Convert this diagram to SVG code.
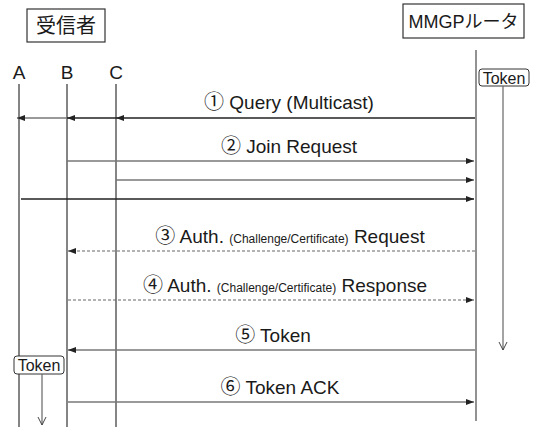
<svg xmlns="http://www.w3.org/2000/svg" width="537" height="427" viewBox="0 0 537 427">
<style>
text{font-family:"Liberation Sans","Noto Sans CJK JP",sans-serif;fill:#1a1a1a}
.lbl{font-size:19px}
.sm{font-size:12px}
.hdr{font-size:19px}
.num{font-family:"Noto Sans CJK JP",sans-serif;font-size:20px}
.box{fill:#fff;stroke:#333;stroke-width:1.2}
.life{stroke:#333;stroke-width:1.2;fill:none}
.rlife{stroke:#777;stroke-width:1.6;fill:none}
.msg{stroke:#777;stroke-width:1.4;fill:none}
.dark{stroke:#222;stroke-width:1.4;fill:none}
.dash{stroke:#666;stroke-width:1.2;stroke-dasharray:3,2;fill:none}
.tok{fill:#fff;stroke:#333;stroke-width:1}
.tline{stroke:#666;stroke-width:1.2;fill:none}
.tk{font-size:16px}
</style>
<defs>
<marker id="ah" markerWidth="8" markerHeight="6" refX="8" refY="3" orient="auto" markerUnits="userSpaceOnUse">
<path d="M0,0 L8,3 L0,6 Z" fill="#222"/>
</marker>
<marker id="va" markerWidth="10" markerHeight="10" refX="5" refY="9" orient="0" markerUnits="userSpaceOnUse">
<path d="M1,1 L5,9 L9,1" fill="none" stroke="#444" stroke-width="1"/>
</marker>
</defs>
<g id="receiver-header">
<rect class="box" x="27" y="9" width="78" height="33"/>
<text class="hdr" x="66" y="33" text-anchor="middle" style="font-size:20px">受信者</text>
</g>
<g id="router-header">
<rect class="box" x="403" y="4" width="121" height="34"/>
<text x="463.5" y="28" text-anchor="middle" style="font-size:18px">MMGPルータ</text>
</g>
<g id="A">
<text class="hdr" x="19" y="79" text-anchor="middle">A</text>
<line class="life" x1="19" y1="84" x2="19" y2="427"/>
</g>
<g id="B">
<text class="hdr" x="67" y="79" text-anchor="middle">B</text>
<line class="life" x1="67" y1="84" x2="67" y2="427"/>
</g>
<g id="C">
<text class="hdr" x="116" y="79" text-anchor="middle">C</text>
<line class="life" x1="116" y1="84" x2="116" y2="427"/>
</g>
<g id="router">
<line class="rlife" x1="476" y1="50" x2="476" y2="421"/>
</g>
<g id="token-router">
<rect class="tok" x="479" y="69" width="50" height="17" rx="3"/>
<text class="tk" x="504" y="84" text-anchor="middle">Token</text>
<line class="tline" x1="503" y1="86" x2="503" y2="350" marker-end="url(#va)"/>
</g>
<g id="token-A">
<rect class="tok" x="14" y="356" width="50" height="18" rx="3"/>
<text class="tk" x="39" y="371" text-anchor="middle">Token</text>
<line class="tline" x1="42" y1="374" x2="42" y2="425" marker-end="url(#va)"/>
</g>
<g id="connectors">
<line class="dark" x1="475" y1="118" x2="116" y2="118" marker-end="url(#ah)"/>
<line class="dark" x1="116" y1="118" x2="67" y2="118" marker-end="url(#ah)"/>
<line class="msg" x1="67" y1="118" x2="17" y2="118" marker-end="url(#ah)"/>
<line class="msg" x1="67" y1="161" x2="474" y2="161" marker-end="url(#ah)"/>
<line class="msg" x1="116" y1="180" x2="474" y2="180" marker-end="url(#ah)"/>
<line class="dark" x1="21" y1="199" x2="474" y2="199" marker-end="url(#ah)"/>
<line class="dash" x1="475" y1="251" x2="68" y2="251" marker-end="url(#ah)"/>
<line class="dash" x1="68" y1="300" x2="474" y2="300" marker-end="url(#ah)"/>
<line class="msg" x1="475" y1="350" x2="68" y2="350" marker-end="url(#ah)"/>
<line class="msg" x1="68" y1="402" x2="474" y2="402" marker-end="url(#ah)"/>
</g>
<g id="labels">
<text class="lbl" x="289" y="109" text-anchor="middle"><tspan class="num">①</tspan> Query (Multicast)</text>
<text class="lbl" x="289" y="153" text-anchor="middle"><tspan class="num">②</tspan> Join Request</text>
<text class="lbl" x="290" y="243" text-anchor="middle"><tspan class="num">③</tspan> Auth. <tspan class="sm">(Challenge/Certificate)</tspan> Request</text>
<text class="lbl" x="285" y="292" text-anchor="middle"><tspan class="num">④</tspan> Auth. <tspan class="sm">(Challenge/Certificate)</tspan> Response</text>
<text class="lbl" x="273" y="342" text-anchor="middle"><tspan class="num">⑤</tspan> Token</text>
<text class="lbl" x="280" y="394" text-anchor="middle"><tspan class="num">⑥</tspan> Token ACK</text>
</g>
</svg>
